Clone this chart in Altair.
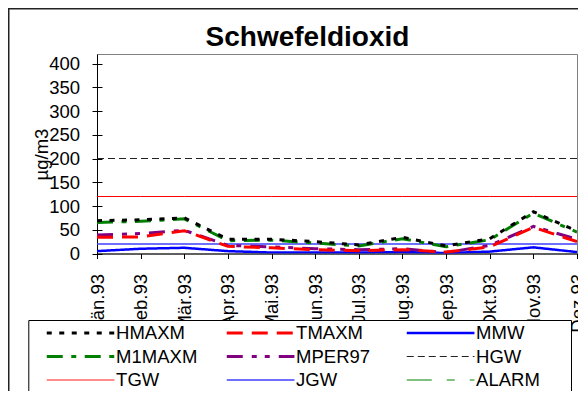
import altair as alt
import pandas as pd

# ---- data ----
months = ["Jän.93", "Feb.93", "Mär.93", "Apr.93", "Mai.93", "Jun.93",
          "Jul.93", "Aug.93", "Sep.93", "Okt.93", "Nov.93", "Dez.93"]
HMAXM = [69, 71, 75, 30, 30, 25, 18, 34, 16, 31, 88, 47]
M1MAXM = [65, 68, 73, 27, 28, 22, 16, 31, 14, 29, 85, 45]
TMAXM = [34, 35, 48, 15, 12, 8, 6, 8, 3, 14, 55, 25]
MPER97 = [39, 42, 49, 17, 14, 10, 8, 10, 2, 17, 57, 30]
MMW = [5, 10, 12, 5, 2, 2, 2, 3, 1, 4, 13, 3]
HGW = [200] * 12
TGW = [120] * 12
JGW = [20] * 12
ALARM = [500] * 12

# legend order (Vega fills legend columns first)
series_order = ["HMAXM", "M1MAXM", "TGW", "TMAXM", "MPER97", "JGW", "MMW", "HGW", "ALARM"]
series_values = {"HMAXM": HMAXM, "M1MAXM": M1MAXM, "TGW": TGW, "TMAXM": TMAXM,
                 "MPER97": MPER97, "JGW": JGW, "MMW": MMW, "HGW": HGW, "ALARM": ALARM}
colors = ["#000000", "#008000", "#FF0000", "#FF0000", "#800080", "#4040FF", "#0000FF", "#222222", "#008000"]
dashes = [[5, 7.5], [16, 8.5, 5, 8.5], [1, 0], [16, 9], [16, 9, 5, 8, 5, 9], [1, 0], [1, 0], [7, 4], [25, 15, 8, 15]]
widths = [3, 3, 1, 3, 3, 1.5, 2.5, 1, 1]

draw_order = ["JGW", "TGW", "HGW", "ALARM", "MMW", "MPER97", "TMAXM", "M1MAXM", "HMAXM"]
rows = []
for name in draw_order:
    for i, (m, v) in enumerate(zip(months, series_values[name])):
        rows.append({"Monat": m, "idx": i, "Reihe": name, "Wert": v})
df = pd.DataFrame(rows)

W, H = 480, 199.5
FONT = "Liberation Sans"
yvals = list(range(0, 401, 50))
yscale = alt.Scale(domain=[0, 420], nice=False, zero=True)

legend = alt.Legend(
    title=None, orient="none", legendX=28.3 - 97 - 2.5, legendY=320.6 - 54,
    columns=3, symbolType="stroke", symbolSize=4583, symbolOffset=16.9,
    labelOffset=0, clipHeight=20, rowPadding=3.5, columnPadding=10,
    gridAlign="all", padding=2.4,
    labelFontSize=18.5, labelFont=FONT, labelColor="black", symbolStrokeWidth=1.5,
)

xenc = alt.X("Monat:N", sort=months, scale=alt.Scale(type="point", padding=0),
             axis=alt.Axis(title=None, labelAngle=270, labelFontSize=18.5, labelFont=FONT,
                           labelColor="black", labelPadding=15, tickSize=5, tickColor="black",
                           domainColor="black", grid=False, labelOverlap=False))

lines = alt.Chart(df).mark_line(clip=True).encode(
    x=xenc,
    y=alt.Y("Wert:Q", scale=yscale,
            axis=alt.Axis(values=yvals, title="µg/m3", orient="left", tickSize=5, tickColor="black",
                          domainColor="black", labelFontSize=18.5, labelFont=FONT, labelColor="black",
                          labelPadding=12.5, grid=False, titleFontSize=18.5, titleFont=FONT,
                          titleFontWeight="normal", titleColor="black", titleAngle=270,
                          titleAlign="center", titleBaseline="middle", titleX=-55.5, titleY=100)),
    color=alt.Color("Reihe:N", scale=alt.Scale(domain=series_order, range=colors), legend=legend),
    strokeDash=alt.StrokeDash("Reihe:N", scale=alt.Scale(domain=series_order, range=dashes), legend=legend),
    strokeWidth=alt.StrokeWidth("Reihe:N", scale=alt.Scale(type="ordinal", domain=series_order, range=widths),
                                legend=legend),
    order=alt.Order("idx:Q", sort="ascending"),
)

# inner halves of the crossing y-axis ticks
inner_ticks = alt.Chart(df).mark_point(opacity=0).encode(
    y=alt.Y("Wert:Q", scale=yscale,
            axis=alt.Axis(orient="right", offset=-W, values=yvals, labels=False, domain=False,
                          tickSize=5, tickColor="black", title=None, grid=False)),
)

# outer chart frame
frame = alt.Chart(pd.DataFrame({"k": [0]})).mark_rect(
    filled=False, stroke="#222222", strokeWidth=1.5
).encode(x=alt.value(8.75 - 97), y=alt.value(8.75 - 54), x2=alt.value(700), y2=alt.value(600))

# legend box (white, covering the lower part of the month labels)
legend_box = alt.Chart(pd.DataFrame({"k": [0]})).mark_rect(
    fill="white", stroke="black", strokeWidth=1
).encode(x=alt.value(28.8 - 97), y=alt.value(320.5 - 54), x2=alt.value(571.5 - 97), y2=alt.value(420))

chart = alt.layer(frame, lines, legend_box, inner_ticks).resolve_axis(y="independent").properties(
    width=W, height=H,
    title=alt.TitleParams("Schwefeldioxid", fontSize=28, fontWeight="bold", font=FONT, color="black",
                          anchor="middle", frame="group", dx=-29.5, baseline="alphabetic", offset=0, dy=65.5),
    autosize=alt.AutoSizeParams(type="none"),
    padding={"left": 89, "top": 46, "right": 1, "bottom": 137.5},
).configure(background="white", font=FONT).configure_view(stroke="#808080", strokeWidth=1)

chart.save("out.html", embed_options={"renderer": "svg", "actions": False})
